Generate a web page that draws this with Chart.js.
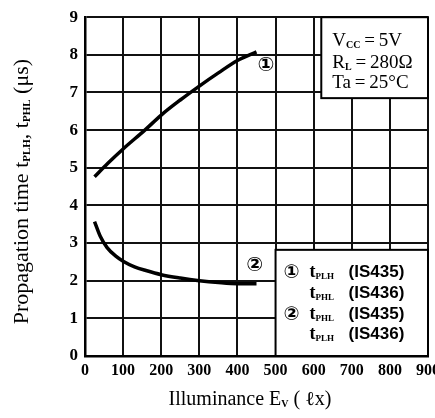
<!DOCTYPE html>
<html>
<head>
<meta charset="utf-8">
<script src="https://cdn.jsdelivr.net/npm/chart.js@4"></script>
<style>
  html, body { margin: 0; padding: 0; background: #fff; overflow: hidden; }
  #wrap { width: 435px; height: 418px; overflow: hidden; }
</style>
</head>
<body>
<div id="wrap"><canvas id="propChart" width="445" height="418"></canvas></div>
<script>
// curve 1: tPLH (IS435) / tPHL (IS436)
const illum1 = [25, 60, 100, 157, 200, 250, 300, 350, 400, 450];
const tp1 = [4.76, 5.12, 5.5, 6.0, 6.4, 6.8, 7.17, 7.52, 7.85, 8.08];
// curve 2: tPHL (IS435) / tPLH (IS436)
const illum2 = [25, 40, 58, 80, 100, 130, 160, 200, 250, 300, 350, 400, 450];
const tp2 = [3.57, 3.18, 2.88, 2.66, 2.52, 2.37, 2.27, 2.16, 2.07, 2.0, 1.95, 1.92, 1.92];

const xMax = 900;
const yMax = 9;

const SERIF = "'Liberation Serif', 'DejaVu Serif', serif";
const SANS = "'Liberation Sans', 'DejaVu Sans', sans-serif";
const CIRC = "'DejaVu Sans', 'Noto Sans CJK JP', sans-serif";

function toPoints(xs, ys) {
  return xs.map((x, i) => ({ x: x, y: ys[i] }));
}

// draw a row of text pieces with different fonts (for subscripts)
function drawRuns(ctx, runs, x, y, align) {
  let w = 0;
  runs.forEach((r) => {
    ctx.font = r.font;
    w += ctx.measureText(r.text).width;
  });
  let cx = align === "center" ? x - w / 2 : x;
  runs.forEach((r) => {
    ctx.font = r.font;
    ctx.fillText(r.text, cx, y + (r.dy || 0));
    cx += ctx.measureText(r.text).width;
  });
}

const big = `19px ${SERIF}`;
const sub = `bold 10px ${SERIF}`;
const subSmall = `bold 9px ${SERIF}`;

const notesPlugin = {
  id: "notes",
  afterDatasetsDraw(chart) {
    const ctx = chart.ctx;
    const xs = chart.scales.x;
    const ys = chart.scales.y;
    ctx.save();
    ctx.fillStyle = "#000";

    // curve labels
    ctx.font = `bold 20px ${CIRC}`;
    ctx.textAlign = "center";
    ctx.textBaseline = "middle";
    ctx.fillText("①", xs.getPixelForValue(475), ys.getPixelForValue(7.7));
    ctx.fillText("②", xs.getPixelForValue(445), ys.getPixelForValue(2.4));
    ctx.textAlign = "left";
    ctx.textBaseline = "alphabetic";

    // condition box (top right)
    let L = xs.getPixelForValue(620);
    let T = ys.getPixelForValue(9);
    let R = xs.getPixelForValue(900);
    let B = ys.getPixelForValue(6.85);
    ctx.fillStyle = "#fff";
    ctx.fillRect(L, T, R - L, B - T);
    ctx.strokeStyle = "#000";
    ctx.lineWidth = 2;
    ctx.strokeRect(L, T, R - L, B - T);
    ctx.fillStyle = "#000";
    drawRuns(ctx, [
      { text: "V", font: big },
      { text: "CC", font: sub, dy: 2 },
      { text: "\u2009=\u20095V", font: big },
    ], L + 11, T + 29);
    drawRuns(ctx, [
      { text: "R", font: big },
      { text: "L", font: sub, dy: 2 },
      { text: "\u2009=\u2009280Ω", font: big },
    ], L + 11, T + 51);
    drawRuns(ctx, [
      { text: "Ta\u2009=\u200925°C", font: big },
    ], L + 11, T + 71);

    // legend box (bottom right)
    L = xs.getPixelForValue(500);
    T = ys.getPixelForValue(2.82);
    B = ys.getPixelForValue(0);
    ctx.fillStyle = "#fff";
    ctx.fillRect(L, T, R - L, B - T);
    ctx.strokeRect(L, T, R - L, B - T);
    ctx.fillStyle = "#000";
    const rows = [
      ["①", "PLH", "(IS435)"],
      ["", "PHL", "(IS436)"],
      ["②", "PHL", "(IS435)"],
      ["", "PLH", "(IS436)"],
    ];
    const base = [27, 48, 69, 89];
    rows.forEach((r, i) => {
      const y = T + base[i];
      if (r[0]) {
        ctx.font = `bold 19px ${CIRC}`;
        ctx.fillText(r[0], L + 8, y + 1);
      }
      drawRuns(ctx, [
        { text: "t", font: `bold 18px ${SERIF}` },
        { text: r[1], font: subSmall, dy: 2 },
      ], L + 34, y);
      ctx.font = `bold 17px ${SANS}`;
      ctx.fillText(r[2], L + 73, y);
    });
    ctx.restore();
  },
  afterDraw(chart) {
    const ctx = chart.ctx;
    const area = chart.chartArea;
    ctx.save();
    ctx.fillStyle = "#000";
    ctx.textBaseline = "alphabetic";
    ctx.textAlign = "left";
    // x axis title
    drawRuns(ctx, [
      { text: "Illuminance E", font: `20px ${SERIF}` },
      { text: "V", font: `bold 10px ${SERIF}`, dy: 2 },
      { text: " ( ℓx)", font: `20px ${SERIF}` },
    ], 250, 405, "center");
    // y axis title
    ctx.translate(28, (area.top + area.bottom) / 2 + 5);
    ctx.rotate(-Math.PI / 2);
    drawRuns(ctx, [
      { text: "Propagation time t", font: `22px ${SERIF}` },
      { text: "PLH", font: `bold 11px ${SERIF}`, dy: 2 },
      { text: ", t", font: `22px ${SERIF}` },
      { text: "PHL", font: `bold 11px ${SERIF}`, dy: 2 },
      { text: " (μs)", font: `22px ${SERIF}` },
    ], 0, 0, "center");
    ctx.restore();
  },
};

document.addEventListener("DOMContentLoaded", () => {
  const ctx = document.getElementById("propChart").getContext("2d");
  new Chart(ctx, {
    type: "line",
    data: {
      datasets: [
        {
          label: "1",
          data: toPoints(illum1, tp1),
          borderColor: "#000",
          borderWidth: 3.5,
          pointRadius: 0,
          cubicInterpolationMode: "monotone",
          fill: false,
        },
        {
          label: "2",
          data: toPoints(illum2, tp2),
          borderColor: "#000",
          borderWidth: 3.5,
          pointRadius: 0,
          cubicInterpolationMode: "monotone",
          fill: false,
        },
      ],
    },
    options: {
      responsive: false,
      animation: false,
      devicePixelRatio: 1,
      layout: {
        padding: { left: 38, right: 17, top: 16, bottom: 30 },
      },
      scales: {
        x: {
          type: "linear",
          min: 0,
          max: xMax,
          afterFit: (s) => { s.height = 32; },
          ticks: {
            stepSize: 100,
            color: "#000",
            padding: 5,
            maxRotation: 0,
            font: { family: SERIF, size: 16, weight: "bold" },
          },
          grid: { color: "#111", lineWidth: 2, drawTicks: false },
          border: { color: "#000", width: 2.5 },
        },
        y: {
          min: 0,
          max: yMax,
          afterFit: (s) => { s.width = 47; },
          ticks: {
            stepSize: 1,
            color: "#000",
            padding: 7,
            font: { family: SERIF, size: 17, weight: "bold" },
          },
          grid: { color: "#111", lineWidth: 2, drawTicks: false },
          border: { color: "#000", width: 2.5 },
        },
      },
      plugins: {
        legend: { display: false },
        tooltip: { enabled: false },
      },
    },
    plugins: [notesPlugin],
  });
});
</script>
</body>
</html>
